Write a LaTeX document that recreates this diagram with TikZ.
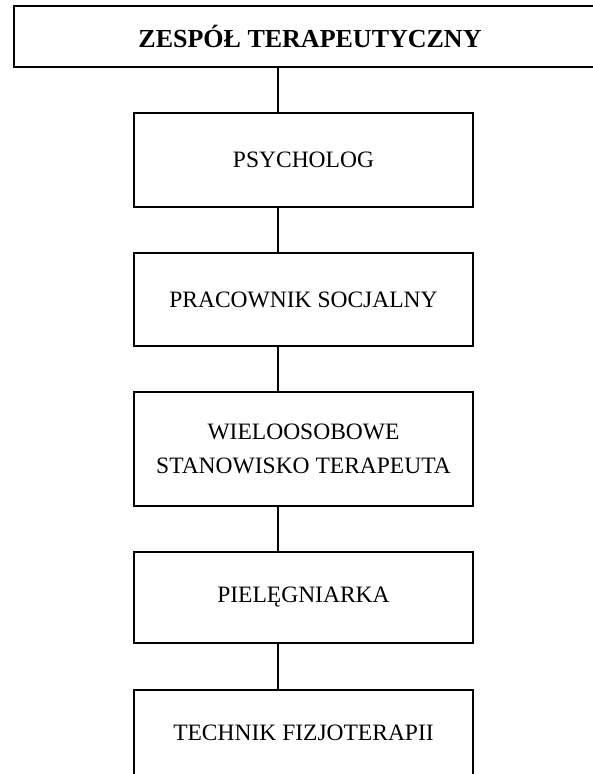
\documentclass[tikz,border=0pt]{standalone}
\usepackage{fontspec}
\setmainfont{Liberation Serif}
\begin{document}
\begin{tikzpicture}[x=1pt,y=-1pt,
  box/.style={draw=black, line width=2pt, minimum width=339pt, inner sep=0pt,
    font=\fontsize{23.5}{34}\selectfont, align=center},
  conn/.style={draw=black, line width=2pt}]
\useasboundingbox (0,0) rectangle (593,774);
\clip (0,0) rectangle (593,774);
\node[draw=black, line width=2pt, minimum width=592pt, minimum height=61pt, inner sep=0pt,
  font=\fontsize{26}{30}\selectfont\bfseries] (top) at (310,36.5) {ZESPÓŁ TERAPEUTYCZNY};
\node[box, minimum height=94pt] (psy) at (303.5,160) {PSYCHOLOG};
\node[box, minimum height=93pt] (soc) at (303.5,299.5) {PRACOWNIK SOCJALNY};
\node[box, minimum height=114pt] (wie) at (303.5,449) {WIELOOSOBOWE\\STANOWISKO TERAPEUTA};
\node[box, minimum height=91pt] (pie) at (303.5,597.5) {PIELĘGNIARKA};
\node[box, minimum height=90pt] (tec) at (303.5,735) {\raisebox{5pt}{TECHNIK FIZJOTERAPII}};
\coordinate (cx) at (278,0);
\draw[conn] (top.south -| cx) -- (psy.north -| cx);
\draw[conn] (psy.south -| cx) -- (soc.north -| cx);
\draw[conn] (soc.south -| cx) -- (wie.north -| cx);
\draw[conn] (wie.south -| cx) -- (pie.north -| cx);
\draw[conn] (pie.south -| cx) -- (tec.north -| cx);
\end{tikzpicture}
\end{document}
